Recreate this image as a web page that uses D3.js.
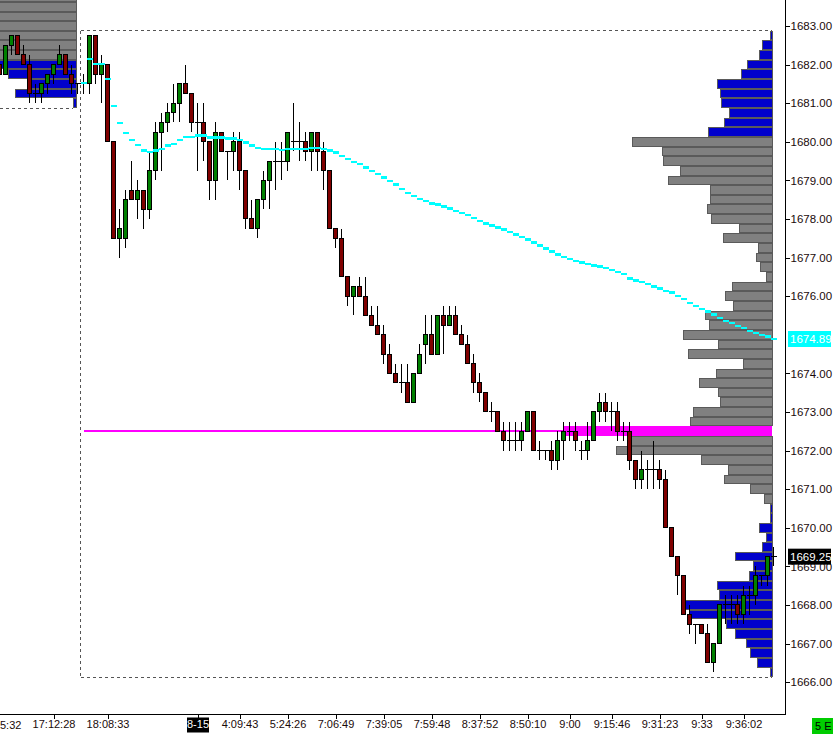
<!DOCTYPE html>
<html><head><meta charset="utf-8">
<script src="https://cdn.jsdelivr.net/npm/d3@7/dist/d3.min.js"></script>
<style>
html,body{margin:0;padding:0;background:#fff;overflow:hidden}
svg{display:block}
text{font-family:"Liberation Sans",Arial,sans-serif}
</style></head><body>
<svg id="c" width="833" height="736"></svg>
<script>
// ---------- DATA ----------
const firstIndex = -1;          // index of first candle (partially visible)
const sessionStart = 13;        // first candle of current session
const opens = [
1682.0,1681.75,1682.5,1682.75,1682.25,1682.0,1681.25,1681.25,1681.5,1681.75,
1682.0,1682.25,1681.75,1681.5,1681.5,1681.5,1682.75,1681.75,1682.0,1680.0,
1677.5,1677.5,1678.75,1678.5,1678.75,1678.25,1679.25,1680.25,1680.5,1680.75,
1681.0,1681.5,1681.25,1680.5,1680.5,1680.0,1679.0,1680.25,1679.75,1679.75,
1680.0,1679.25,1678.0,1677.75,1678.5,1679.0,1679.5,1679.5,1679.5,1680.0,
1680.0,1680.0,1679.75,1680.25,1679.75,1679.25,1677.75,1677.5,1676.5,1676.0,
1676.25,1676.0,1675.5,1675.25,1675.0,1674.5,1674.0,1673.75,1673.75,1673.25,
1674.0,1674.75,1675.0,1674.5,1675.5,1675.25,1675.5,1675.0,1674.75,1674.25,
1673.75,1673.5,1673.0,1673.0,1672.5,1672.25,1672.25,1672.25,1672.5,1673.0,
1672.0,1672.0,1672.0,1671.75,1672.25,1672.5,1672.5,1672.0,1672.0,1672.25,
1673.0,1673.25,1673.0,1673.0,1672.5,1672.5,1671.75,1671.25,1671.5,1671.5,
1671.5,1671.25,1670.0,1669.25,1668.75,1667.75,1667.5,1667.5,1667.25,1666.5,
1667.0,1668.0,1668.0,1668.0,1667.75,1668.25,1668.25,1668.75,1668.75,1669.25];
const highs = [
1682.0,1682.5,1682.75,1682.75,1682.5,1682.25,1681.5,1681.5,1681.75,1682.0,
1682.5,1682.25,1682.0,1681.5,1681.75,1682.75,1682.75,1682.25,1682.0,1680.0,
1678.25,1678.75,1679.5,1679.0,1678.75,1679.75,1680.5,1680.75,1681.0,1681.5,
1681.5,1682.0,1681.25,1681.0,1681.0,1680.0,1680.5,1680.25,1679.75,1680.25,
1680.25,1679.25,1678.5,1678.5,1679.25,1679.5,1680.0,1680.0,1680.25,1681.0,
1680.5,1680.25,1680.25,1680.25,1680.0,1679.25,1677.75,1677.75,1676.5,1676.25,
1676.5,1676.5,1675.75,1675.75,1675.25,1674.75,1674.25,1674.25,1674.25,1674.0,
1674.75,1675.5,1675.5,1675.5,1675.75,1675.75,1675.75,1675.25,1675.0,1674.5,
1674.0,1673.5,1673.25,1673.0,1672.75,1672.75,1672.75,1672.75,1673.0,1673.0,
1672.25,1672.0,1672.25,1672.5,1672.75,1672.75,1672.75,1672.25,1672.75,1673.0,
1673.5,1673.5,1673.25,1673.25,1672.75,1672.75,1671.75,1672.0,1671.75,1672.25,
1671.75,1671.5,1670.0,1669.25,1668.75,1668.0,1667.5,1667.5,1667.5,1667.0,
1668.0,1668.25,1668.25,1668.25,1668.5,1668.5,1669.0,1668.75,1669.25,1669.5];
const lows = [
1681.75,1681.75,1682.25,1682.25,1682.0,1681.0,1681.0,1681.0,1681.25,1681.5,
1682.0,1681.75,1681.25,1681.25,1681.25,1681.25,1681.5,1681.0,1680.0,1677.5,
1677.0,1677.25,1678.5,1678.0,1677.75,1678.0,1679.0,1679.25,1680.25,1680.5,
1680.5,1681.25,1680.25,1679.25,1679.5,1678.5,1678.5,1679.75,1679.0,1679.25,
1678.75,1677.75,1677.75,1677.5,1678.25,1678.25,1678.75,1679.0,1679.25,1679.75,
1679.5,1679.5,1679.25,1679.25,1678.75,1677.75,1677.25,1676.5,1675.75,1675.5,
1676.0,1675.5,1675.25,1675.0,1674.25,1674.0,1673.75,1673.5,1673.25,1673.25,
1674.0,1674.25,1674.5,1674.5,1674.5,1675.25,1675.0,1674.75,1674.25,1673.5,
1673.25,1673.0,1672.75,1672.5,1672.0,1672.0,1672.0,1672.0,1672.5,1672.0,
1671.75,1671.75,1671.5,1671.5,1671.75,1672.25,1672.0,1671.75,1671.75,1672.25,
1672.75,1672.75,1672.5,1672.25,1672.25,1671.5,1671.0,1671.0,1671.0,1671.0,
1671.0,1670.0,1669.25,1668.25,1667.75,1667.25,1667.0,1667.25,1666.5,1666.25,
1667.0,1667.5,1667.5,1667.5,1667.5,1667.75,1668.0,1668.5,1668.5,1669.0];
const closes = [
1681.75,1682.5,1682.75,1682.25,1682.0,1681.25,1681.25,1681.5,1681.75,1682.0,
1682.25,1681.75,1681.5,1681.5,1681.5,1682.75,1681.75,1682.0,1680.0,1677.5,
1677.75,1678.5,1678.5,1678.75,1678.25,1679.25,1680.25,1680.5,1680.75,1681.0,
1681.5,1681.25,1680.5,1680.5,1680.0,1679.0,1680.25,1679.75,1679.75,1680.0,
1679.25,1678.0,1677.75,1678.5,1679.0,1679.5,1679.5,1679.5,1680.25,1680.0,
1680.0,1679.75,1680.25,1679.75,1679.25,1677.75,1677.5,1676.5,1676.0,1676.25,
1676.0,1675.5,1675.25,1675.0,1674.5,1674.0,1673.75,1673.75,1673.25,1674.0,
1674.5,1675.0,1674.5,1675.5,1675.25,1675.5,1675.0,1674.75,1674.25,1673.75,
1673.5,1673.0,1673.0,1672.5,1672.25,1672.25,1672.25,1672.5,1673.0,1672.0,
1672.0,1672.0,1671.75,1672.25,1672.5,1672.5,1672.25,1672.0,1672.25,1673.0,
1673.25,1673.0,1673.0,1672.5,1672.5,1671.75,1671.25,1671.5,1671.5,1671.5,
1671.25,1670.0,1669.25,1668.75,1667.75,1667.5,1667.5,1667.25,1666.5,1667.0,
1668.0,1668.0,1668.0,1667.75,1668.25,1668.25,1668.75,1668.75,1669.25,1669.25];
// VWAP of current session, one value per candle from sessionStart
const vwap = [
1681.53,1682.14,1682.02,1682.02,1681.63,1680.93,1680.49,1680.23,1680.05,1679.92,
1679.77,1679.73,1679.77,1679.82,1679.90,1679.95,1680.05,1680.13,1680.13,1680.16,
1680.16,1680.11,1680.11,1680.11,1680.08,1680.08,1680.05,1679.98,1679.90,1679.84,
1679.81,1679.81,1679.81,1679.79,1679.81,1679.81,1679.81,1679.81,1679.84,1679.84,
1679.81,1679.77,1679.72,1679.63,1679.55,1679.48,1679.42,1679.33,1679.25,1679.17,
1679.07,1678.99,1678.89,1678.78,1678.68,1678.60,1678.52,1678.47,1678.40,1678.37,
1678.32,1678.27,1678.21,1678.16,1678.11,1678.03,1677.95,1677.88,1677.83,1677.78,
1677.73,1677.66,1677.60,1677.53,1677.47,1677.39,1677.31,1677.23,1677.16,1677.08,
1677.01,1676.96,1676.91,1676.87,1676.83,1676.79,1676.77,1676.73,1676.68,1676.63,
1676.57,1676.46,1676.41,1676.36,1676.31,1676.25,1676.20,1676.14,1676.09,1676.00,
1675.93,1675.83,1675.75,1675.67,1675.60,1675.52,1675.44,1675.36,1675.31,1675.23,
1675.18,1675.10,1675.05,1675.00,1674.95,1674.89];
// Current session volume profile
const profileLevels = [
1682.75,1682.5,1682.25,1682.0,1681.75,1681.5,1681.25,1681.0,1680.75,1680.5,
1680.25,1680.0,1679.75,1679.5,1679.25,1679.0,1678.75,1678.5,1678.25,1678.0,
1677.75,1677.5,1677.25,1677.0,1676.75,1676.5,1676.25,1676.0,1675.75,1675.5,
1675.25,1675.0,1674.75,1674.5,1674.25,1674.0,1673.75,1673.5,1673.25,1673.0,
1672.75,1672.5,1672.25,1672.0,1671.75,1671.5,1671.25,1671.0,1670.75,1670.5,
1670.25,1670.0,1669.75,1669.5,1669.25,1669.0,1668.75,1668.5,1668.25,1668.0,
1667.75,1667.5,1667.25,1667.0,1666.75,1666.5,1666.25];
const profileVolume = [
2,10,13,25,31,55,52,51,43,48,
64,140,110,109,92,104,62,62,65,61,
33,49,14,16,12,6,40,47,39,67,
63,89,54,84,29,56,73,54,52,79,
82,209,145,156,71,44,48,22,8,2,
2,13,6,10,37,19,23,55,53,87,
83,46,37,26,22,15,2];
const poc = 1672.5, vaHigh = 1680.0, vaLow = 1670.75;
// Previous session profile (visible part)
const prevLevels = [1683.75,1683.5,1683.25,1683.0,1682.75,1682.5,1682.25,1682.0,1681.75,1681.5,1681.25,1681.0];
const prevVolume = [110,130,150,140,120,100,90,85,68,49,61,3];
const prevVaLow = 1682.25;
// Axes (1675.00 is hidden behind the VWAP tag in the reference)
const priceTicks = [1666,1667,1668,1669,1670,1671,1672,1673,1674,1676,1677,1678,1679,1680,1681,1682,1683];
const timeIdx = [8,17,32,39,47,55,63,71,79,87,94,101,109,116,123];
const timeLabels = ["17:12:28","18:08:33","8-15","4:09:43","5:24:26","7:06:49","7:39:05","7:59:48","8:37:52","8:50:10","9:00","9:15:46","9:31:23","9:33","9:36:02"];
const lastPrice = 1669.25, lastVwap = 1674.89;

// ---------- SCALES ----------
const svg = d3.select('#c');
const xs = d3.scaleLinear().domain([-1,128]).range([-0.5,773.5]);
const ys = d3.scaleLinear().domain([1666,1683]).range([682.1,26]);
const step = ys(1682.75) - ys(1683);
const pw = d3.scaleLinear().domain([0,209]).range([0,209]);
const profRight = 772, prevRight = 76;
const axisX = 785, axisY = 714;
const GREEN = '#008000', RED = '#800000', BLUE = '#0000CC', GRAY = '#808080', MAG = '#FF00FF', CYAN = '#00FFFF';

// ---------- PROFILES ----------
const gProf = svg.append('g').attr('shape-rendering','crispEdges');
gProf.selectAll('rect.prev').data(prevLevels).join('rect')
  .attr('x', (d,i) => prevRight - pw(prevVolume[i]))
  .attr('width', (d,i) => pw(prevVolume[i]))
  .attr('y', d => ys(d) - step/2 + 0.5)
  .attr('height', step - 1)
  .attr('fill', d => d >= prevVaLow ? GRAY : BLUE)
  .attr('stroke', '#5a5a5a').attr('stroke-width', 1);

// POC thin line
svg.append('line').attr('x1', xs(sessionStart)).attr('x2', profRight)
  .attr('y1', ys(poc)).attr('y2', ys(poc))
  .attr('stroke', MAG).attr('stroke-width', 2).attr('shape-rendering','crispEdges');

const gProf2 = svg.append('g').attr('shape-rendering','crispEdges');
gProf2.selectAll('rect').data(profileLevels).join('rect')
  .attr('x', (d,i) => profRight - pw(profileVolume[i]))
  .attr('width', (d,i) => pw(profileVolume[i]))
  .attr('y', d => ys(d) - step/2 + (d === poc ? 0 : 0.5))
  .attr('height', d => d === poc ? step : step - 1)
  .attr('fill', d => d === poc ? MAG : (d <= vaHigh && d >= vaLow ? GRAY : BLUE))
  .attr('stroke', d => d === poc ? 'none' : '#5a5a5a').attr('stroke-width', 1);

// ---------- DASHED SESSION BOX ----------
const topY = ys(profileLevels[0]) - step/2;
const botY = ys(profileLevels[profileLevels.length-1]) + step/2;
const sepX = (xs(sessionStart-1) + xs(sessionStart)) / 2;
const gDash = svg.append('g').attr('stroke','#555').attr('stroke-dasharray','3,3').attr('stroke-width',1).attr('shape-rendering','crispEdges');
gDash.append('line').attr('x1', sepX).attr('x2', sepX).attr('y1', topY).attr('y2', botY);
gDash.append('line').attr('x1', sepX).attr('x2', profRight).attr('y1', topY).attr('y2', topY);
gDash.append('line').attr('x1', sepX).attr('x2', profRight).attr('y1', botY).attr('y2', botY);
const prevBot = ys(prevLevels[prevLevels.length-1]) + step/2;
gDash.append('line').attr('x1', 0).attr('x2', prevRight - 3).attr('y1', prevBot).attr('y2', prevBot);

// ---------- CANDLES ----------
const candles = opens.map((o,k) => ({i: firstIndex + k, o, h: highs[k], l: lows[k], c: closes[k]}));
const gC = svg.append('g').attr('shape-rendering','crispEdges');
gC.selectAll('line.w').data(candles).join('line')
  .attr('x1', d => xs(d.i)).attr('x2', d => xs(d.i))
  .attr('y1', d => ys(d.h)).attr('y2', d => ys(d.l))
  .attr('stroke', '#000').attr('stroke-width', 1);
gC.selectAll('rect.b').data(candles.filter(d => d.o !== d.c)).join('rect')
  .attr('x', d => xs(d.i) - 2).attr('width', 4)
  .attr('y', d => ys(Math.max(d.o,d.c)))
  .attr('height', d => ys(Math.min(d.o,d.c)) - ys(Math.max(d.o,d.c)))
  .attr('fill', d => d.c > d.o ? GREEN : RED)
  .attr('stroke', '#000').attr('stroke-width', 1);
gC.selectAll('line.dj').data(candles.filter(d => d.o === d.c)).join('line')
  .attr('x1', d => xs(d.i) - 3).attr('x2', d => xs(d.i) + 3)
  .attr('y1', d => ys(d.o)).attr('y2', d => ys(d.o))
  .attr('stroke', '#000').attr('stroke-width', 1);

// ---------- VWAP ----------
svg.append('g').attr('shape-rendering','crispEdges')
  .selectAll('rect').data(vwap).join('rect')
  .attr('x', (d,k) => xs(sessionStart + k) - 3).attr('width', 6)
  .attr('y', d => ys(d) - 1.2).attr('height', 2.4)
  .attr('fill', CYAN);

// ---------- AXES ----------
const gA = svg.append('g');
gA.append('line').attr('x1', axisX + 0.5).attr('x2', axisX + 0.5).attr('y1', 0).attr('y2', axisY)
  .attr('stroke', '#000').attr('shape-rendering','crispEdges');
gA.append('line').attr('x1', 0).attr('x2', axisX + 1).attr('y1', axisY + 0.5).attr('y2', axisY + 0.5)
  .attr('stroke', '#000').attr('shape-rendering','crispEdges');

const gR = svg.append('g').attr('transform', `translate(${axisX + 0.5},0)`)
  .call(d3.axisRight(ys).tickValues(priceTicks).tickFormat(d3.format('.2f')).tickSize(4).tickPadding(1));
gR.select('.domain').remove();
gR.selectAll('line').attr('stroke','#000').attr('shape-rendering','crispEdges');
gR.selectAll('text').attr('font-size', 11.5).attr('fill', '#1a0a0a').attr('font-family','"Liberation Sans",Arial,sans-serif');

const gB = svg.append('g').attr('transform', `translate(0,${axisY + 0.5})`)
  .call(d3.axisBottom(xs).tickValues(timeIdx).tickFormat((d,i) => timeLabels[i]).tickSize(4).tickPadding(2));
gB.select('.domain').remove();
gB.selectAll('line').attr('stroke','#000').attr('shape-rendering','crispEdges');
gB.selectAll('text').attr('font-size', 11).attr('fill', '#1a0a0a').attr('font-family','"Liberation Sans",Arial,sans-serif');
gB.selectAll('.tick').filter((d,i) => timeLabels[i] === '8-15').each(function(){
  const t = d3.select(this);
  t.insert('rect','text').attr('x', -11).attr('y', 3).attr('width', 22).attr('height', 15).attr('fill', '#000');
  t.select('text').attr('fill', '#fff');
});
svg.append('text').attr('x', 0).attr('y', axisY + 15).attr('font-size', 11).attr('fill','#1a0a0a').text('5:32');

// Highlighted price labels
function priceTag(v, bg, fg){
  const g = svg.append('g').attr('transform', `translate(${axisX + 3},${ys(v)})`);
  g.append('rect').attr('x', 0).attr('y', -8).attr('width', 43).attr('height', 16).attr('fill', bg);
  g.append('text').attr('x', 2).attr('y', 0).attr('dy', '0.35em').attr('font-size', 11.5).attr('fill', fg).text(d3.format('.2f')(v));
}
priceTag(lastVwap, CYAN, '#fff');
priceTag(lastPrice, '#000', '#fff');

// Bottom-right tag
svg.append('rect').attr('x', 812).attr('y', 718).attr('width', 21).attr('height', 16).attr('fill', '#00CC00');
svg.append('text').attr('x', 815).attr('y', 730).attr('font-size', 11).attr('fill', '#000').text('5 E');
</script>
</body></html>
